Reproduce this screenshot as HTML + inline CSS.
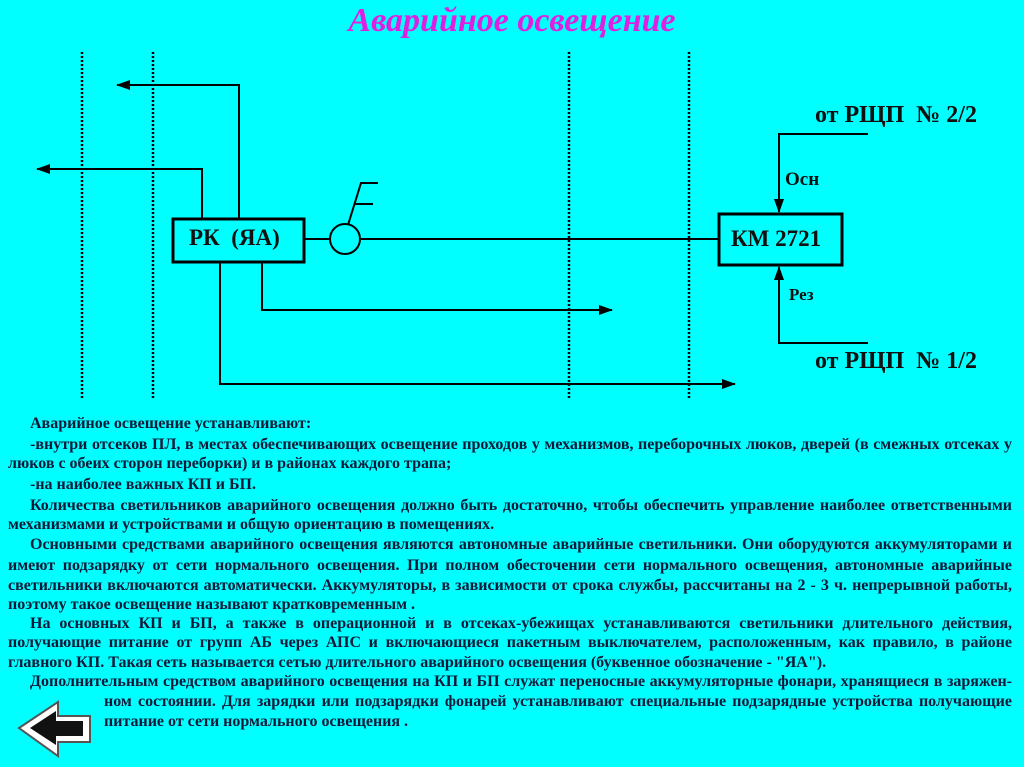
<!DOCTYPE html>
<html><head><meta charset="utf-8"><style>
body{margin:0;width:1024px;height:767px;background:#00ffff;position:relative;overflow:hidden;font-family:"Liberation Serif","Noto Serif CJK SC",serif}
.t{position:absolute;font-weight:bold;font-size:16px;color:#101838;white-space:nowrap;line-height:18px}
.j{text-align:justify;text-align-last:justify;white-space:normal}
.lab{position:absolute;font-weight:bold;color:#101010;white-space:nowrap}
</style></head><body>
<div style="position:absolute;left:0;width:1024px;top:2px;text-align:center;font-style:italic;font-weight:bold;font-size:34px;color:#e020e0;">Аварийное освещение</div>
<svg width="1024" height="767" style="position:absolute;left:0;top:0">
<defs><marker id="a" markerWidth="14" markerHeight="10" refX="13" refY="5" orient="auto" markerUnits="userSpaceOnUse"><path d="M0,0 L14,5 L0,10 z" fill="#000"/></marker></defs>
<g stroke="#000" stroke-width="2.5" stroke-dasharray="2,2">
<line x1="82" y1="52" x2="82" y2="398"/><line x1="153" y1="52" x2="153" y2="398"/>
<line x1="569" y1="52" x2="569" y2="398"/><line x1="689" y1="52" x2="689" y2="398"/>
</g>
<g stroke="#000" stroke-width="2" fill="none">
<polyline points="239,218 239,85 117,85" marker-end="url(#a)"/>
<polyline points="202,218 202,169 37,169" marker-end="url(#a)"/>
<rect x="173" y="219" width="131" height="43" stroke-width="3"/>
<line x1="305" y1="239" x2="330" y2="239"/>
<circle cx="345" cy="239" r="15"/>
<line x1="360" y1="239" x2="718" y2="239"/>
<polyline points="348,225 361,183 378,183"/>
<line x1="355" y1="204" x2="373" y2="204"/>
<rect x="719" y="214" width="123" height="51" stroke-width="3"/>
<polyline points="868,134 779,134 779,212" marker-end="url(#a)"/>
<polyline points="868,343 779,343 779,267" marker-end="url(#a)"/>
<polyline points="262,263 262,310 612,310" marker-end="url(#a)"/>
<polyline points="220,263 220,384 735,384" marker-end="url(#a)"/>
</g>
</svg>
<div class="lab" style="left:189px;top:225px;font-size:23px">РК&nbsp; (ЯА)</div>
<div class="lab" style="left:731px;top:226px;font-size:23px">КМ 2721</div>
<div class="lab" style="left:815px;top:102px;font-size:24px">от РЩП&nbsp; № 2/2</div>
<div class="lab" style="left:815px;top:348px;font-size:24px">от РЩП&nbsp; № 1/2</div>
<div class="lab" style="left:785px;top:169px;font-size:19px">Осн</div>
<div class="lab" style="left:789px;top:285px;font-size:17px">Рез</div>

<div class="t" style="left:30px;top:415px">Аварийное освещение устанавливают:</div>
<div class="t j" style="left:30px;top:436px;width:982px">-внутри отсеков ПЛ, в местах обеспечивающих освещение проходов у механизмов, переборочных люков, дверей (в смежных отсеках у</div>
<div class="t" style="left:8px;top:455px">люков с обеих сторон переборки) и в районах каждого трапа;</div>
<div class="t" style="left:30px;top:476px">-на наиболее важных КП и БП.</div>
<div class="t j" style="left:30px;top:497px;width:982px">Количества светильников аварийного освещения должно быть достаточно, чтобы обеспечить управление наиболее ответственными</div>
<div class="t" style="left:8px;top:516px">механизмами и устройствами и общую ориентацию в помещениях.</div>
<div class="t j" style="left:30px;top:536px;width:982px">Основными средствами аварийного освещения являются автономные аварийные светильники. Они оборудуются аккумуляторами и</div>
<div class="t j" style="left:8px;top:557px;width:1004px">имеют подзарядку от сети нормального освещения. При полном обесточении сети нормального освещения, автономные аварийные</div>
<div class="t j" style="left:8px;top:577px;width:1004px">светильники включаются автоматически. Аккумуляторы, в зависимости от срока службы, рассчитаны на 2 - 3 ч. непрерывной работы,</div>
<div class="t" style="left:8px;top:596px">поэтому такое освещение называют кратковременным .</div>
<div class="t j" style="left:30px;top:615px;width:982px">На основных КП и БП, а также в операционной и в отсеках-убежищах устанавливаются светильники длительного действия,</div>
<div class="t j" style="left:8px;top:634px;width:1004px">получающие питание от групп АБ через АПС и включающиеся пакетным выключателем, расположенным, как правило, в районе</div>
<div class="t" style="left:8px;top:654px">главного КП. Такая сеть называется сетью длительного аварийного освещения (буквенное обозначение - "ЯА").</div>
<div class="t j" style="left:30px;top:673px;width:982px">Дополнительным средством аварийного освещения на КП и БП служат переносные аккумуляторные фонари, хранящиеся в заряжен-</div>
<div class="t j" style="left:104px;top:693px;width:908px">ном состоянии. Для зарядки или подзарядки фонарей устанавливают специальные подзарядные устройства получающие</div>
<div class="t" style="left:104px;top:713px">питание от сети нормального освещения .</div>

<svg width="80" height="64" style="position:absolute;left:16px;top:698px">
<polygon points="3,30 42,4 42,18 74,18 74,44 42,44 42,58" fill="#fff" stroke="#555" stroke-width="2"/>
<polygon points="14,30 40,13 40,23 67,23 67,38 40,38 40,47" fill="#111"/>
</svg>
</body></html>
